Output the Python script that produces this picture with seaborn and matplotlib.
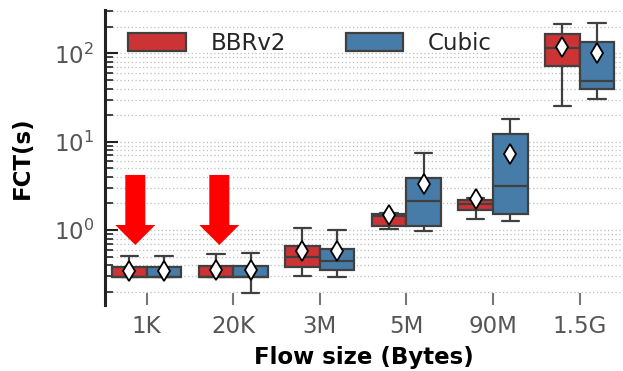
import numpy as np
import pandas as pd
import matplotlib
matplotlib.use("Agg")
import matplotlib.pyplot as plt
import seaborn as sns
from matplotlib.ticker import LogLocator, NullFormatter

# Flow sizes and congestion-control algorithms
sizes = ["1K", "20K", "3M", "5M", "90M", "1.5G"]
algos = ["BBRv2", "Cubic"]

# Flow completion time (s), per flow size: [min, q1, median, q3, max]
bbr_fct = [
    [0.29, 0.29, 0.295, 0.38, 0.51],
    [0.29, 0.29, 0.295, 0.39, 0.53],
    [0.30, 0.38, 0.50, 0.66, 1.04],
    [1.02, 1.10, 1.45, 1.52, 1.55],
    [1.33, 1.68, 1.95, 2.19, 2.30],
    [25.4, 72.0, 115.0, 166.0, 213.0],
]
cubic_fct = [
    [0.29, 0.29, 0.295, 0.38, 0.51],
    [0.195, 0.29, 0.295, 0.39, 0.55],
    [0.29, 0.35, 0.44, 0.61, 1.00],
    [0.98, 1.12, 2.13, 3.85, 7.40],
    [1.27, 1.51, 3.17, 12.2, 18.1],
    [30.5, 39.2, 48.7, 136.0, 223.0],
]
# Mean FCT (s)
bbr_mean = [0.34, 0.35, 0.58, 1.48, 2.24, 117.0]
cubic_mean = [0.34, 0.35, 0.58, 3.30, 7.25, 100.0]

rows = []
for algo, table in zip(algos, [bbr_fct, cubic_fct]):
    for size, vals in zip(sizes, table):
        for v in vals:
            rows.append({"size": size, "algo": algo, "fct": v})
df = pd.DataFrame(rows)

mean_df = pd.DataFrame(
    [{"size": s, "algo": a, "fct": m}
     for a, means in zip(algos, [bbr_mean, cubic_mean])
     for s, m in zip(sizes, means)]
)

sns.set_style("white")
plt.rcParams["font.family"] = ["DejaVu Sans"]

fig = plt.figure(figsize=(6.23, 3.71), dpi=100)
ax = fig.add_axes([0.1685, 0.178, 0.8315, 0.795])
ax.set_yscale("log")

palette = sns.color_palette("Set1", 2)
sns.boxplot(
    data=df, x="size", y="fct", hue="algo", order=sizes, hue_order=algos,
    palette=palette, whis=(0, 100), width=0.8, gap=0, linewidth=1.6,
    linecolor="#404040", showfliers=False, ax=ax,
)
sns.pointplot(
    data=mean_df, x="size", y="fct", hue="algo", order=sizes, hue_order=algos,
    palette=["white", "white"], dodge=0.4, linestyle="none", markers="d",
    markersize=10.5, markeredgecolor="black", markeredgewidth=1.3,
    errorbar=None, legend=False, zorder=5, ax=ax,
)

ax.set_xlim(-0.48, 5.5)
ax.set_ylim(0.1415, 310)
ax.yaxis.set_major_locator(LogLocator(base=10))
ax.yaxis.set_minor_locator(LogLocator(base=10, subs=np.arange(2, 10)))
ax.yaxis.set_minor_formatter(NullFormatter())
ax.grid(True, which="both", axis="y", linestyle=(0, (1, 2)),
        color="#bdbdbd", linewidth=0.9)
ax.set_axisbelow(True)

for side in ["top", "right", "bottom"]:
    ax.spines[side].set_visible(False)
ax.spines["left"].set_linewidth(2.2)
ax.spines["left"].set_color("#222222")

ax.tick_params(axis="y", which="major", direction="in", length=9, width=1.5,
               color="#222222", labelcolor="#555555", labelsize=16.5, pad=8,
               left=True)
ax.tick_params(axis="y", which="minor", direction="in", length=5.5, width=1.2,
               color="#222222", left=True)
ax.tick_params(axis="x", direction="in", length=9, width=1.5, color="#777777",
               labelcolor="#555555", labelsize=16.5, pad=7, bottom=True)

ax.set_xlabel("Flow size (Bytes)", fontsize=16.5, fontweight="bold",
              color="black", labelpad=6)
ax.set_ylabel("FCT(s)", fontsize=16.5, fontweight="bold", color="black",
              labelpad=14)

# Highlight the short flows
for i, shift in [(0, -0.13), (1, -0.16)]:
    xpos = i + shift
    ax.annotate(
        "", xy=(xpos, 0.676), xytext=(xpos, 4.2), xycoords="data",
        arrowprops=dict(
            arrowstyle="simple,head_length=14.4,head_width=28.8,tail_width=14.4",
            color="red", mutation_scale=1, shrinkA=0, shrinkB=0, lw=0,
        ),
        zorder=6,
    )

handles, labels = ax.get_legend_handles_labels()
ax.legend(handles[:2], labels[:2], loc="upper left", ncol=2, frameon=False,
          fontsize=16.5, handlelength=2.5, handleheight=0.8,
          columnspacing=2.6, handletextpad=1.1,
          bbox_to_anchor=(0.045, 0.926), borderaxespad=0, borderpad=0)

fig.savefig("out.png", dpi=100)
